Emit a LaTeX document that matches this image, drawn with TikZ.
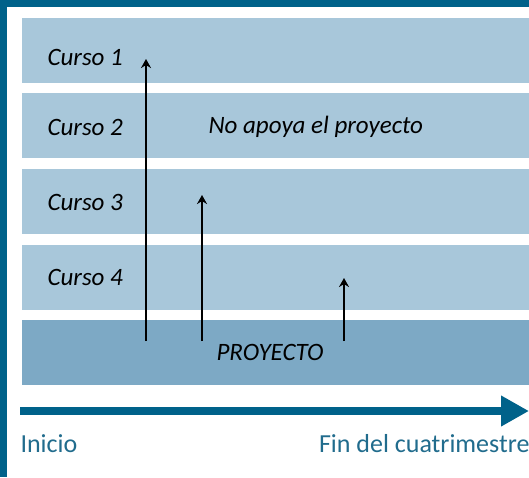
\documentclass[tikz,border=0pt]{standalone}
\usepackage{fontspec}
\setmainfont{Carlito}
\usetikzlibrary{arrows.meta}
\definecolor{frameblue}{HTML}{00628A}
\definecolor{barlight}{HTML}{A8C7DA}
\definecolor{bardark}{HTML}{7DA9C5}
\definecolor{tealtext}{HTML}{216C8D}
\begin{document}
\begin{tikzpicture}[x=1pt,y=-1pt,
    bar/.style={fill=barlight},
    curso/.style={anchor=west,font=\fontsize{25}{29}\selectfont\itshape},
    hito/.style={line width=2.6pt,-{Stealth[length=9pt,width=10pt]}},
    eje/.style={frameblue,line width=8pt,-{Triangle[length=28pt,width=29pt]}},
    etiqueta/.style={tealtext,font=\fontsize{26}{30}\selectfont}]
                \useasboundingbox (0,0) rectangle (529,477);
                \fill [white] (0,0) rectangle (529,477);
                \fill [frameblue] (0,0) rectangle (529,7);
                \fill [frameblue] (0,0) rectangle (7,477);
                \fill [bar] (22,18) rectangle (529,83);
                \fill [bar] (22,93) rectangle (529,158);
                \fill [bar] (22,169) rectangle (529,234);
                \fill [bar] (22,245) rectangle (529,310);
                \fill [bardark] (22,320) rectangle (529,385);
                \node [curso] (c1) at (44,57) {Curso 1};
                \node [curso] (c2) at (44,127) {Curso 2};
                \node [curso] (c3) at (44,202) {Curso 3};
                \node [curso] (c4) at (44,277) {Curso 4};
                \node [curso] (noapoya) at (205,127) {No apoya el proyecto};
                \node [curso] (proyecto) at (213,352) {PROYECTO};
                \coordinate (a1) at (146,341);
                \coordinate (b1) at (146,59);
                \coordinate (a2) at (202,341);
                \coordinate (b2) at (202,195);
                \coordinate (a3) at (344,341);
                \coordinate (b3) at (344,278);
                \draw [hito] (a1)--(b1);
                \draw [hito] (a2)--(b2);
                \draw [hito] (a3)--(b3);
                \coordinate (inicio) at (20,411);
                \coordinate (fin) at (529,411);
                \draw [eje] (inicio)--(fin);
                \node [etiqueta,anchor=west] (lini) at (17,444) {Inicio};
                \node [etiqueta,anchor=east] (lfin) at (533,444) {Fin del cuatrimestre};
            \end{tikzpicture}
\end{document}
